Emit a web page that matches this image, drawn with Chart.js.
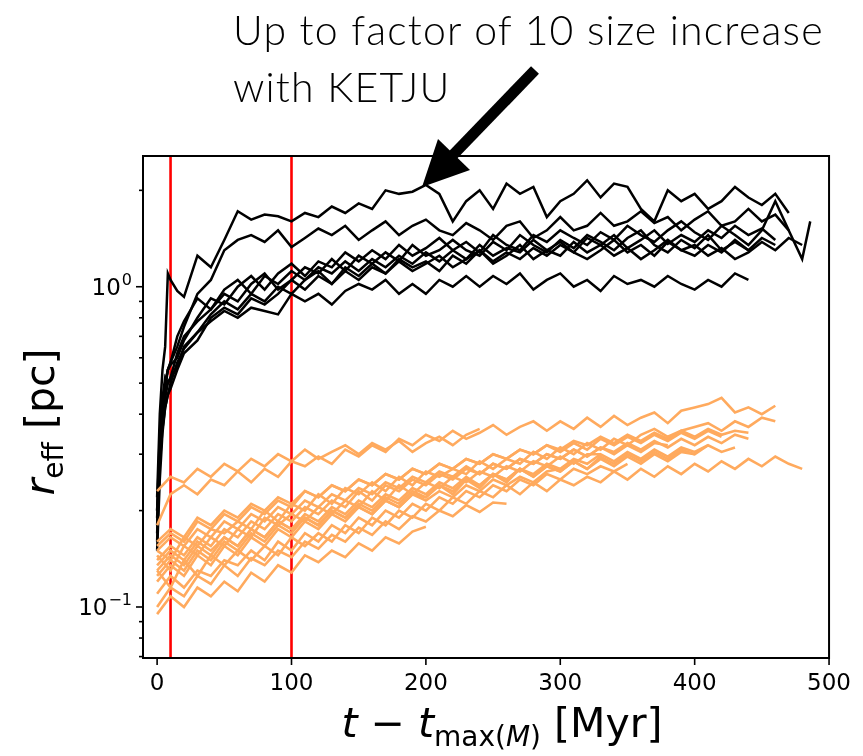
<!DOCTYPE html>
<html>
<head>
<meta charset="utf-8">
<script src="https://cdn.jsdelivr.net/npm/chart.js@4.4.0/dist/chart.umd.min.js"></script>
<style>
body { margin: 0; background: #fff; }
#wrap { position: relative; width: 863px; height: 756px; overflow: hidden; background: #fff; }
#note { position: absolute; left: 233px; top: 1px; font-family: Lato, 'Open Sans', sans-serif; font-weight: 300; font-size: 41px; letter-spacing: 1.2px; line-height: 57px; color: #000; white-space: nowrap; }
.ax { position: absolute; font-family: 'DejaVu Sans', sans-serif; font-size: 41px; color: #000; white-space: nowrap; line-height: 1; }
.ax sub { font-size: 28px; vertical-align: -9px; }
#xt { left: 502px; top: 703px; transform: translateX(-50%); }
#yt { left: 44px; top: 422px; transform: translate(-50%, -50%) rotate(-90deg); }
svg { position: absolute; left: 0; top: 0; }
</style>
</head>
<body>
<div id="wrap">
  <canvas id="myChart" width="863" height="756"></canvas>
  <div id="note">Up to factor of 10 size increase<br>with KETJU</div>
  <div class="ax" id="xt"><i>t</i> &minus; <i>t</i><sub>max(<i>M</i>)</sub> [Myr]</div>
  <div class="ax" id="yt"><i>r</i><sub>eff</sub> [pc]</div>
  <svg width="863" height="756">
    <line x1="535" y1="70" x2="452" y2="156" stroke="#000" stroke-width="11"/>
    <polygon points="422,187 438,139 470,170" fill="#000"/>
  </svg>
</div>
<script>
// tiempos (Myr)
const tBlack = [0,2,4,6,8,10,15,20,30,40,50,60,70,80,90,100,110,120,130,140,150,160,170,180,190,200,
  210,220,230,240,250,260,270,280,290,300,310,320,330,340,350,360,370,380,390,400,410,420,430,440,450,460,470,480,486];
const tOrange = [0,10,20,30,40,50,60,70,80,90,100,110,120,130,140,150,160,170,180,190,200,210,220,230,240,
  250,260,270,280,290,300,310,320,330,340,350,360,370,380,390,400,410,420,430,440,450,460,470,480];

// r_eff [pc] con KETJU (negro)
const black1 = [0.22,0.4,0.55,0.65,1.1,1.05,0.97,0.93,1.25,1.15,1.4,1.72,1.62,1.68,1.66,1.6,1.7,1.65,1.78,1.7,1.82,1.75,2.0,1.95,1.98,2.08,1.95,1.6,1.85,2.0,1.75,2.1,1.95,2.05,1.65,1.85,1.95,2.15,1.9,2.1,2.05,1.75,1.6,2.0,1.85,1.95,1.75,1.85,2.05,1.9,1.8,1.95,1.7];
const black2 = [0.2,0.3,0.4,0.48,0.55,0.58,0.65,0.75,0.95,1.05,1.3,1.4,1.45,1.38,1.5,1.33,1.42,1.52,1.45,1.55,1.4,1.5,1.6,1.45,1.55,1.62,1.5,1.45,1.58,1.5,1.4,1.55,1.6,1.42,1.5,1.65,1.5,1.55,1.7,1.55,1.6,1.72,1.58,1.65,1.5,1.62,1.72,1.55,1.6,1.75,1.6,1.68,1.5,1.22,1.6];
const black3 = [0.18,0.3,0.42,0.5,0.55,0.58,0.7,0.78,0.92,0.85,0.98,1.05,0.95,1.08,1.02,1.12,1.05,1.15,1.1,1.2,1.12,1.22,1.15,1.25,1.18,1.28,1.2,1.3,1.22,1.35,1.25,1.32,1.28,1.4,1.3,1.38,1.28,1.42,1.35,1.45,1.32,1.4,1.5,1.36,1.45,1.38,1.5,1.42,1.55,1.45,1.52,1.4];
const black4 = [0.16,0.3,0.42,0.5,0.55,0.57,0.6,0.68,0.8,0.92,0.88,1.0,1.08,0.98,1.1,1.18,1.08,1.2,1.15,1.28,1.2,1.3,1.22,1.35,1.25,1.32,1.42,1.3,1.38,1.28,1.45,1.35,1.3,1.45,1.38,1.5,1.42,1.35,1.48,1.4,1.55,1.45,1.38,1.5,1.6,1.48,1.4,1.55,1.45,1.35,1.5,1.85,1.5];
const black5 = [0.2,0.35,0.45,0.52,0.5,0.52,0.62,0.7,0.78,0.85,0.95,0.9,1.02,1.1,0.98,1.05,1.15,1.1,1.22,1.12,1.25,1.18,1.28,1.2,1.35,1.25,1.3,1.4,1.3,1.25,1.38,1.3,1.45,1.35,1.28,1.4,1.32,1.45,1.38,1.3,1.42,1.5,1.35,1.28,1.4,1.32,1.45,1.3,1.38,1.3];
const black6 = [0.17,0.28,0.38,0.45,0.5,0.52,0.56,0.65,0.72,0.82,0.9,0.85,0.95,0.9,1.0,0.95,1.05,1.12,1.02,1.15,1.08,1.18,1.1,1.22,1.15,1.2,1.12,1.25,1.18,1.3,1.2,1.28,1.22,1.32,1.25,1.35,1.28,1.22,1.3,1.4,1.28,1.35,1.25,1.38,1.3,1.25,1.35,1.28,1.4,1.3,1.42,1.35];
const black7 = [0.15,0.25,0.35,0.42,0.46,0.48,0.55,0.62,0.68,0.8,0.86,0.82,0.92,0.88,0.95,1.05,0.98,1.08,1.02,1.12,1.05,1.15,1.1,1.2,1.12,1.18,1.25,1.15,1.22,1.3,1.18,1.25,1.35,1.22,1.3,1.25,1.38,1.28,1.35,1.25,1.32,1.22,1.3,1.4,1.3,1.35,1.25,1.32,1.22,1.28,1.38,1.3,1.42,1.35];
const black8 = [0.19,0.28,0.36,0.42,0.46,0.5,0.58,0.64,0.72,0.78,0.84,0.8,0.86,0.84,0.82,0.95,0.9,0.95,0.88,0.97,1.02,0.98,1.05,0.95,1.02,0.95,1.05,1.0,1.08,1.0,1.08,1.02,1.1,0.98,1.05,1.1,1.0,1.05,0.97,1.08,1.02,1.05,1.0,1.08,1.02,0.98,1.05,1.0,1.1,1.05];

// r_eff [pc] sin KETJU (naranja)
const orange1 = [0.23,0.255,0.245,0.27,0.255,0.28,0.265,0.29,0.275,0.3,0.285,0.31,0.29,0.305,0.32,0.3,0.325,0.31,0.33,0.305,0.325,0.34,0.32,0.345,0.36];
const orange2 = [0.18,0.225,0.24,0.225,0.25,0.24,0.265,0.245,0.27,0.255,0.285,0.275,0.295,0.28,0.31,0.295,0.32,0.305,0.335,0.32,0.345,0.33,0.355,0.335,0.35,0.37,0.345,0.365,0.38,0.355,0.38,0.36,0.39,0.365,0.395,0.37,0.39,0.405,0.375,0.41,0.42,0.43,0.45,0.405,0.42,0.4,0.425];
const orange3 = [0.15,0.14,0.165,0.155,0.175,0.17,0.185,0.175,0.2,0.185,0.21,0.2,0.225,0.21,0.235,0.225,0.245,0.23,0.255,0.24,0.265,0.255,0.27,0.26,0.285,0.27,0.29,0.28,0.305,0.29,0.315,0.3,0.325,0.31,0.335,0.32,0.345,0.36,0.34,0.355,0.365,0.375,0.355,0.38,0.365,0.39,0.38];
const orange4 = [0.13,0.115,0.14,0.125,0.145,0.135,0.15,0.14,0.155,0.145,0.165,0.155,0.17,0.16,0.18,0.17,0.19,0.18,0.2,0.19,0.21,0.2,0.22,0.21,0.23,0.22,0.24,0.225,0.245,0.23,0.25,0.24,0.255,0.245,0.265,0.25,0.27,0.255,0.275,0.26,0.28,0.265,0.285,0.27,0.29,0.275,0.295,0.28,0.27];
const orange5 = [0.095,0.108,0.1,0.115,0.108,0.12,0.112,0.128,0.12,0.135,0.128,0.145,0.138,0.15,0.143,0.158,0.15,0.165,0.158,0.172,0.178];
const orange6 = [0.1,0.115,0.108,0.125,0.118,0.135,0.125,0.142,0.135,0.15,0.143,0.16,0.152,0.168,0.16,0.177,0.168,0.185,0.175,0.192,0.185,0.2,0.192,0.208,0.198,0.212,0.21];
const orange7 = [0.14,0.155,0.145,0.165,0.155,0.175,0.165,0.185,0.175,0.195,0.185,0.205,0.195,0.215,0.205,0.23,0.215,0.24,0.23,0.25,0.24,0.26,0.25,0.27,0.26,0.28,0.27,0.29,0.28,0.3,0.29,0.31,0.295,0.315,0.305,0.325,0.31,0.33,0.315,0.335,0.32,0.34,0.325,0.345,0.335];
const orange8 = [0.12,0.135,0.125,0.145,0.135,0.155,0.145,0.165,0.155,0.175,0.165,0.185,0.175,0.195,0.185,0.205,0.195,0.215,0.205,0.225,0.22,0.24,0.225,0.25,0.235,0.26,0.245,0.27,0.255,0.275,0.265,0.285,0.27,0.295,0.28,0.3,0.285,0.305,0.29,0.31,0.3,0.32,0.305,0.315];
const orange9 = [0.16,0.175,0.165,0.19,0.18,0.2,0.19,0.21,0.2,0.22,0.21,0.23,0.22,0.24,0.23,0.25,0.24,0.26,0.25,0.27,0.26,0.28,0.27,0.29,0.28,0.3,0.29,0.31,0.3,0.32,0.305,0.325,0.31,0.335,0.32,0.34,0.325,0.345,0.33,0.35,0.335,0.355,0.34];
const orange10 = [0.13,0.145,0.135,0.155,0.145,0.165,0.155,0.175,0.165,0.185,0.175,0.195,0.185,0.205,0.195,0.215,0.205,0.225,0.215,0.235,0.225,0.245,0.235,0.255,0.24,0.26,0.25,0.27,0.255,0.275,0.265,0.285,0.27,0.29,0.275,0.295,0.28,0.3,0.285,0.305,0.3];
const orange11 = [0.15,0.165,0.155,0.175,0.165,0.185,0.175,0.195,0.185,0.205,0.195,0.215,0.205,0.225,0.215,0.235,0.225,0.245,0.235,0.255,0.245,0.265,0.255,0.275,0.26,0.28,0.27,0.29,0.28,0.3,0.29,0.31,0.295,0.315,0.3,0.32,0.305,0.325,0.32];
const orange12 = [0.11,0.125,0.115,0.13,0.125,0.14,0.135,0.15,0.14,0.16,0.15,0.17,0.16,0.18,0.17,0.19,0.18,0.2,0.19,0.21,0.2,0.22,0.21,0.23,0.22,0.24,0.23,0.25,0.24,0.26,0.25,0.27,0.26,0.275,0.265,0.28];
const orange13 = [0.145,0.13,0.155,0.145,0.165,0.155,0.175,0.165,0.19,0.18,0.195,0.185,0.205,0.195,0.215,0.205,0.23,0.215,0.24,0.225,0.245,0.235,0.255,0.245,0.265,0.255,0.275,0.265,0.285,0.275,0.295,0.28,0.3,0.3];
const orange14 = [0.125,0.14,0.13,0.15,0.14,0.16,0.15,0.17,0.16,0.18,0.17,0.19,0.18,0.2,0.19,0.21,0.2,0.22,0.21,0.23,0.22,0.24,0.23,0.25,0.24,0.26,0.25,0.27,0.26,0.28,0.27,0.29,0.28,0.3,0.285,0.305,0.29,0.31,0.295,0.315,0.305,0.32];
const orange15 = [0.135,0.15,0.14,0.16,0.15,0.165,0.155,0.175,0.165,0.185,0.175,0.19,0.18,0.2,0.19,0.205,0.195,0.215,0.205,0.225,0.215,0.23,0.22,0.24,0.23,0.25,0.24,0.255,0.245,0.265,0.27];
const orange16 = [0.155,0.17,0.16,0.185,0.175,0.195,0.185,0.205,0.195,0.215,0.205,0.23,0.22,0.24,0.23,0.25,0.24,0.26,0.25,0.27,0.26,0.28,0.27,0.29,0.28,0.3,0.29,0.31,0.3,0.32,0.31,0.33,0.32,0.34,0.325,0.345,0.33,0.35,0.335,0.355,0.34,0.36,0.345,0.355,0.35];

// lineas rojas verticales y ejes
const redLines = [10, 100];
const xTicks = [0, 100, 200, 300, 400, 500];
const yTicks = [0.07,0.08,0.09,0.1,0.2,0.3,0.4,0.5,0.6,0.7,0.8,0.9,1,2];
const yMajor = [0.1, 1];
const yExponents = ['\u22121', '0'];
const xMin = -10.5, xMax = 500;
const yMin = 0.0693, yMax = 2.56;

const blackRuns = [black1, black2, black3, black4, black5, black6, black7, black8];
const orangeRuns = [orange1, orange2, orange3, orange4, orange5, orange6, orange7, orange8,
  orange9, orange10, orange11, orange12, orange13, orange14, orange15, orange16];

const datasets = [];
orangeRuns.forEach(run => {
    datasets.push({
        data: run.map((v, i) => ({ x: tOrange[i], y: v })),
        borderColor: 'rgb(255,170,94)',
        borderWidth: 2.6,
        pointRadius: 0,
        fill: false
    });
});
blackRuns.forEach(run => {
    datasets.push({
        data: run.map((v, i) => ({ x: tBlack[i], y: v })),
        borderColor: '#000',
        borderWidth: 2.5,
        pointRadius: 0,
        fill: false
    });
});
redLines.forEach(xv => {
    datasets.push({
        data: [{ x: xv, y: yMin }, { x: xv, y: yMax }],
        borderColor: '#ff0000',
        borderWidth: 2.6,
        pointRadius: 0,
        fill: false
    });
});

// marco, marcas y etiquetas 10^n
const frame = {
    id: 'frame',
    afterDraw(chart) {
        const { ctx, chartArea: a, scales } = chart;
        ctx.save();
        ctx.strokeStyle = '#000';
        ctx.fillStyle = '#000';
        ctx.lineWidth = 1.6;
        scales.x.ticks.forEach(t => {
            const px = scales.x.getPixelForValue(t.value);
            ctx.beginPath();
            ctx.moveTo(px, a.bottom);
            ctx.lineTo(px, a.bottom + 7);
            ctx.stroke();
        });
        scales.y.ticks.forEach(t => {
            const py = scales.y.getPixelForValue(t.value);
            const k = yMajor.indexOf(t.value);
            const len = k >= 0 ? 7 : 4;
            ctx.beginPath();
            ctx.moveTo(a.left, py);
            ctx.lineTo(a.left - len, py);
            ctx.stroke();
            if (k >= 0) {
                const right = a.left - 11;
                ctx.textBaseline = 'alphabetic';
                ctx.textAlign = 'right';
                ctx.font = '16px "DejaVu Sans"';
                const ew = ctx.measureText(yExponents[k]).width;
                ctx.fillText(yExponents[k], right, py - 2);
                ctx.font = '23px "DejaVu Sans"';
                ctx.fillText('10', right - ew - 1, py + 8);
            }
        });
        ctx.lineWidth = 2;
        ctx.strokeRect(a.left, a.top, a.right - a.left, a.bottom - a.top);
        ctx.restore();
    }
};

const ctx = document.getElementById('myChart');
new Chart(ctx, {
    type: 'line',
    data: { datasets: datasets },
    plugins: [frame],
    options: {
        responsive: false,
        animation: false,
        layout: { padding: { top: 156, right: 30, left: 0, bottom: 0 } },
        plugins: { legend: { display: false }, tooltip: { enabled: false } },
        scales: {
            x: {
                type: 'linear',
                min: xMin,
                max: xMax,
                afterBuildTicks: s => { s.ticks = xTicks.map(v => ({ value: v })); },
                afterFit: s => { s.height = 98; },
                grid: { display: false, drawTicks: false },
                border: { display: false },
                ticks: { padding: 12, color: '#000', font: { family: 'DejaVu Sans', size: 23 }, maxRotation: 0 }
            },
            y: {
                type: 'logarithmic',
                min: yMin,
                max: yMax,
                afterBuildTicks: s => { s.ticks = yTicks.map(v => ({ value: v })); },
                afterFit: s => { s.width = 143; },
                grid: { display: false, drawTicks: false },
                border: { display: false },
                ticks: { display: false }
            }
        }
    }
});
</script>
</body>
</html>
